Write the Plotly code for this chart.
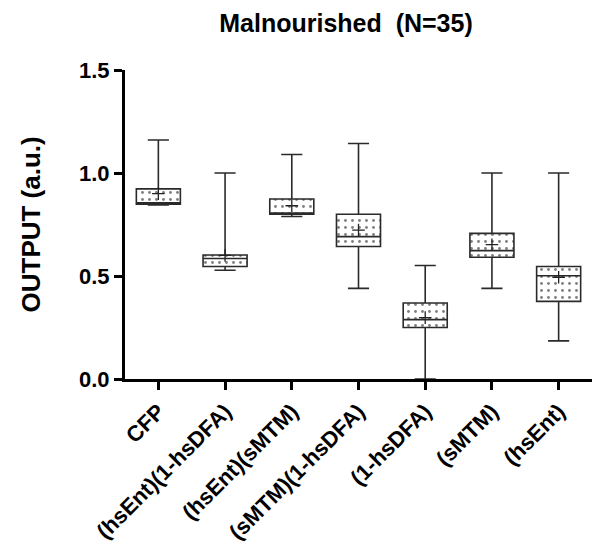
import plotly.graph_objects as go

categories = ["CFP", "(hsEnt)(1-hsDFA)", "(hsEnt)(sMTM)", "(sMTM)(1-hsDFA)",
              "(1-hsDFA)", "(sMTM)", "(hsEnt)"]
lower_fence = [0.845, 0.528, 0.789, 0.440, 0.000, 0.440, 0.185]
q1 = [0.848, 0.546, 0.800, 0.643, 0.250, 0.591, 0.377]
median = [0.855, 0.585, 0.805, 0.691, 0.288, 0.623, 0.501]
q3 = [0.923, 0.602, 0.874, 0.800, 0.369, 0.707, 0.546]
upper_fence = [1.160, 1.000, 1.090, 1.143, 0.551, 1.000, 1.000]
means = [0.900, 0.600, 0.841, 0.723, 0.298, 0.652, 0.494]
y_ticks = [0.0, 0.5, 1.0, 1.5]

FONT = "Liberation Sans, Arial, sans-serif"
BOXW = 0.66

fig = go.Figure()

# dotted fill of the boxes
fig.add_trace(go.Bar(
    x=categories,
    y=[b - a for a, b in zip(q1, q3)],
    base=q1,
    width=BOXW,
    marker=dict(color="white", line=dict(width=0),
                pattern=dict(shape=".", fgcolor="#000000", bgcolor="white",
                             size=7, solidity=0.13)),
    hoverinfo="skip",
    showlegend=False,
))

fig.add_trace(go.Box(
    x=categories,
    q1=q1, median=median, q3=q3,
    lowerfence=lower_fence, upperfence=upper_fence,
    width=BOXW,
    whiskerwidth=0.48,
    fillcolor="rgba(0,0,0,0)",
    line=dict(color="#2a2a2a", width=1.6),
    boxpoints=False,
    showlegend=False,
))

fig.add_trace(go.Scatter(
    x=categories, y=means, mode="markers",
    marker=dict(symbol="cross-thin", size=9, line=dict(color="#222222", width=1.3)),
    showlegend=False,
))

fig.update_layout(
    width=593, height=542,
    margin=dict(l=125, r=1, t=70, b=163),
    paper_bgcolor="white", plot_bgcolor="white",
    font=dict(family=FONT, color="black"),
    bargap=0,
    title=dict(text="Malnourished  (N=35)", x=346 / 593, xanchor="center",
               y=1 - 23 / 542, yanchor="middle",
               font=dict(family=FONT, size=25, weight="bold", color="black")),
    xaxis=dict(
        type="category", range=[-0.5, 6.5], automargin=False,
        showline=True, linecolor="black", linewidth=3,
        ticks="outside", ticklen=8, tickwidth=3, tickcolor="black",
        tickangle=-45, showgrid=False, zeroline=False,
        tickfont=dict(family=FONT, size=22, weight="bold", color="black"),
    ),
    yaxis=dict(
        range=[0, 1.5], tickvals=y_ticks, tickformat=".1f", automargin=False,
        showline=True, linecolor="black", linewidth=3,
        ticks="outside", ticklen=8, tickwidth=3, tickcolor="black",
        showgrid=False, zeroline=False,
        tickfont=dict(family=FONT, size=22, weight="bold", color="black"),
    ),
    annotations=[dict(
        text="OUTPUT (a.u.)", textangle=-90, xref="paper", yref="paper",
        x=(30 - 125) / 467, y=0.5, xanchor="center", yanchor="middle",
        showarrow=False,
        font=dict(family=FONT, size=26, weight="bold", color="black"),
    )],
)

# remove the browser's default 8px page margin so the figure sits at (0, 0)
fig.write_html("out.html", config={"displayModeBar": False},
               post_script="document.body.style.margin='0';")
